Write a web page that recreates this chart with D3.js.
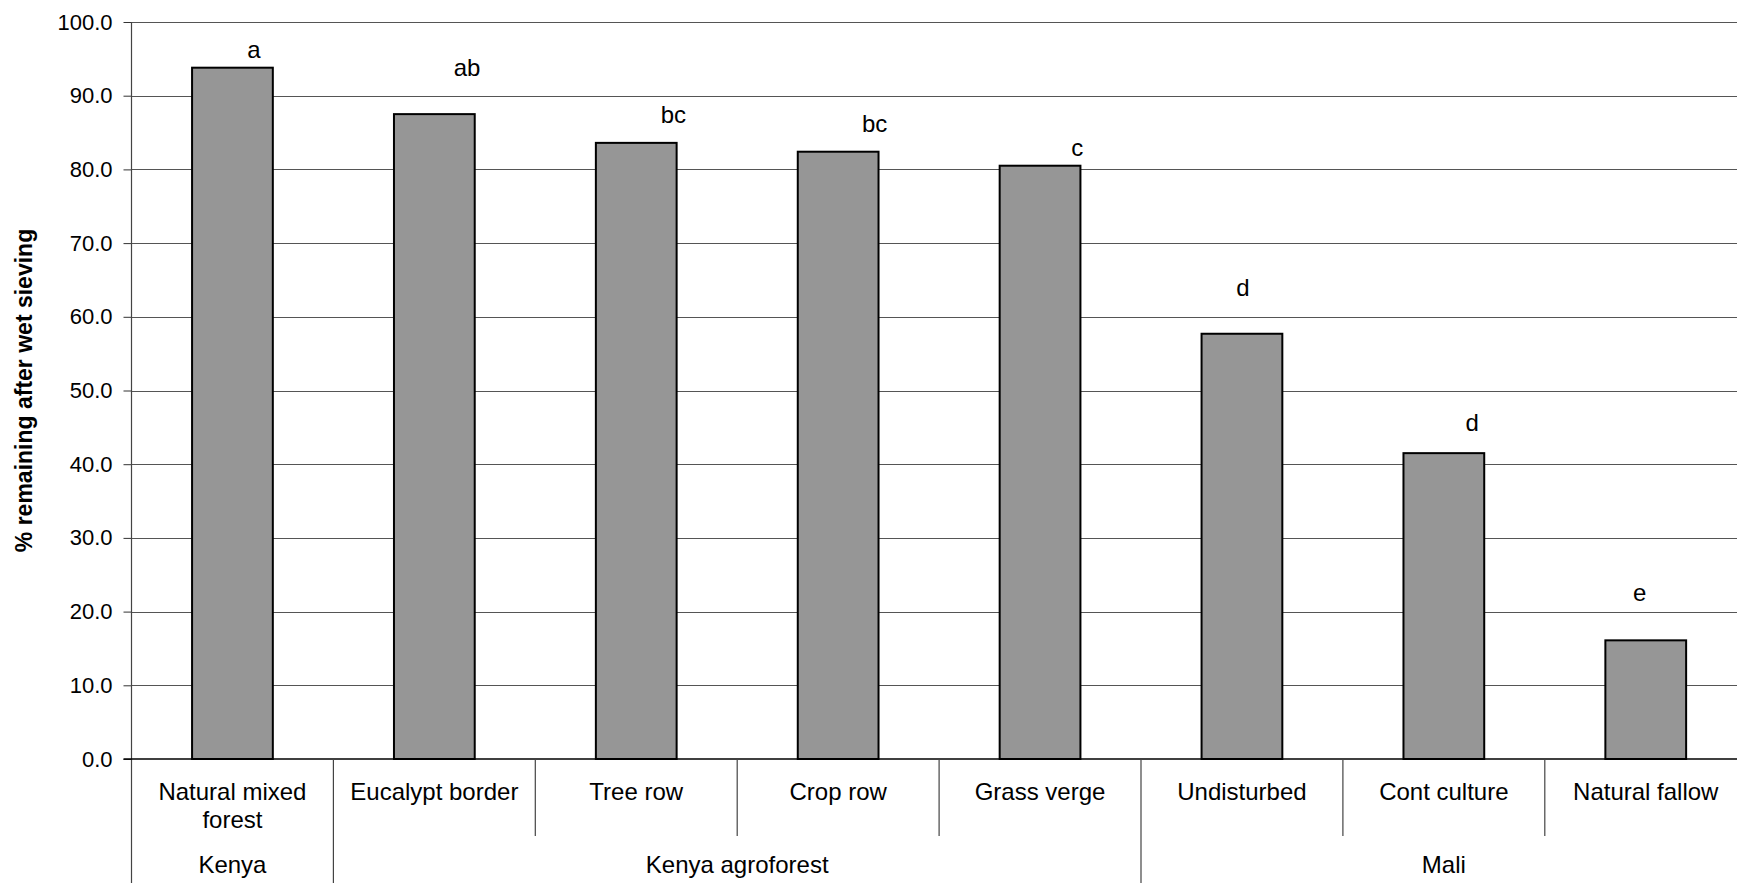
<!DOCTYPE html>
<html>
<head>
<meta charset="utf-8">
<script src="https://cdn.jsdelivr.net/npm/d3@7/dist/d3.min.js"></script>
<style>
  body { margin: 0; background: #fff; }
  text { font-family: "Liberation Sans", Arial, sans-serif; fill: #000; }
</style>
</head>
<body>
<div id="chart"></div>
<script>
// data
var categories = ["Natural mixed\nforest", "Eucalypt border", "Tree row", "Crop row",
    "Grass verge", "Undisturbed", "Cont culture", "Natural fallow"];
var values = [93.8, 87.5, 83.6, 82.4, 80.5, 57.7, 41.5, 16.1];
var letters = ["a", "ab", "bc", "bc", "c", "d", "d", "e"];
// where the letter labels sit: height in data units, shift as share of a category
var letterY = [96.2, 93.8, 87.4, 86.2, 83.0, 63.9, 45.6, 22.6];
var letterShift = [0.107, 0.162, 0.184, 0.181, 0.184, 0.005, 0.14, -0.03];
var groupNames = ["Kenya", "Kenya agroforest", "Mali"];
var groupSizes = [1, 4, 3];
var yTicks = [0, 10, 20, 30, 40, 50, 60, 70, 80, 90, 100];

var W = 1737, H = 883;
var margin = { top: 22, left: 131.5, bottom: 124 };
var bandW = 201.9;

var svg = d3.select("#chart")
    .append("svg")
    .attr("width", W)
    .attr("height", H);

var x = d3.scaleBand()
    .domain(categories)
    .range([margin.left, margin.left + bandW * categories.length])
    .paddingInner(0).paddingOuter(0);

var y = d3.scaleLinear()
    .domain([0, 100])
    .range([H - margin.bottom, margin.top]);

var y0 = y(0);

// gridlines
svg.append("g")
    .selectAll("line")
    .data(yTicks.slice(1))
    .enter()
    .append("line")
    .attr("x1", margin.left)
    .attr("x2", W)
    .attr("y1", function (d) { return Math.round(y(d)) + 0.5 })
    .attr("y2", function (d) { return Math.round(y(d)) + 0.5 })
    .attr("stroke", "#555")
    .attr("stroke-width", 1.2);

// Y axis
var yAxis = svg.append("g")
    .attr("transform", "translate(" + margin.left + ",0)")
    .call(d3.axisLeft(y).tickValues(yTicks).tickFormat(d3.format(".1f")).tickSize(8).tickPadding(11));
yAxis.select(".domain").remove();
yAxis.selectAll("line").attr("stroke", "#333");
yAxis.selectAll("text")
    .style("font-family", '"Liberation Sans", Arial, sans-serif')
    .style("font-size", "22px")
    .attr("fill", "#000");

// left axis line, running down through the category area
svg.append("line")
    .attr("x1", margin.left).attr("x2", margin.left)
    .attr("y1", margin.top).attr("y2", H)
    .attr("stroke", "#444").attr("stroke-width", 1.2);

// bars
var barW = x.bandwidth() * 0.4;
svg.append("g")
    .selectAll("rect")
    .data(values)
    .enter()
    .append("rect")
    .attr("x", function (d, i) { return x(categories[i]) + (x.bandwidth() - barW) / 2 })
    .attr("y", function (d) { return y(d) })
    .attr("width", barW)
    .attr("height", function (d) { return y0 - y(d) })
    .attr("fill", "#969696")
    .attr("stroke", "#000")
    .attr("stroke-width", 2);

// baseline
svg.append("line")
    .attr("x1", margin.left - 8).attr("x2", W)
    .attr("y1", y0).attr("y2", y0)
    .attr("stroke", "#000").attr("stroke-width", 1.5);

// significance letters
svg.append("g")
    .selectAll("text")
    .data(letters)
    .enter()
    .append("text")
    .attr("x", function (d, i) { return x(categories[i]) + x.bandwidth() / 2 + letterShift[i] * x.bandwidth() })
    .attr("y", function (d, i) { return y(letterY[i]) })
    .attr("dy", "0.35em")
    .attr("text-anchor", "middle")
    .style("font-size", "24px")
    .text(function (d) { return d });

// category labels
var catLabels = svg.append("g")
    .selectAll("text")
    .data(categories)
    .enter()
    .append("text")
    .attr("text-anchor", "middle")
    .style("font-size", "24px");
catLabels.each(function (d) {
    var t = d3.select(this);
    var cx = x(d) + x.bandwidth() / 2;
    d.split("\n").forEach(function (line, k) {
        t.append("tspan")
            .attr("x", cx)
            .attr("y", y0 + 33 + k * 28)
            .attr("dy", "0.35em")
            .text(line);
    });
});

// category separators (short) and group separators (long)
var groupStart = [];
var acc = 0;
groupSizes.forEach(function (n) { groupStart.push(acc); acc += n; });

svg.append("g")
    .selectAll("line")
    .data(d3.range(1, categories.length))
    .enter()
    .append("line")
    .attr("x1", function (i) { return x(categories[i]) })
    .attr("x2", function (i) { return x(categories[i]) })
    .attr("y1", y0)
    .attr("y2", function (i) { return groupStart.indexOf(i) >= 0 ? H : y0 + 77 })
    .attr("stroke", "#444")
    .attr("stroke-width", 1.2);

// group labels
svg.append("g")
    .selectAll("text")
    .data(groupNames)
    .enter()
    .append("text")
    .attr("x", function (d, i) {
        var a = x(categories[groupStart[i]]);
        var b = a + groupSizes[i] * x.bandwidth();
        return (a + b) / 2;
    })
    .attr("y", y0 + 106)
    .attr("dy", "0.35em")
    .attr("text-anchor", "middle")
    .style("font-size", "24px")
    .text(function (d) { return d });

// y axis title
svg.append("text")
    .attr("transform", "translate(24," + ((margin.top + y0) / 2) + ") rotate(-90)")
    .attr("dy", "0.35em")
    .attr("text-anchor", "middle")
    .style("font-size", "23px")
    .style("font-weight", "bold")
    .text("% remaining after wet sieving");
</script>
</body>
</html>
